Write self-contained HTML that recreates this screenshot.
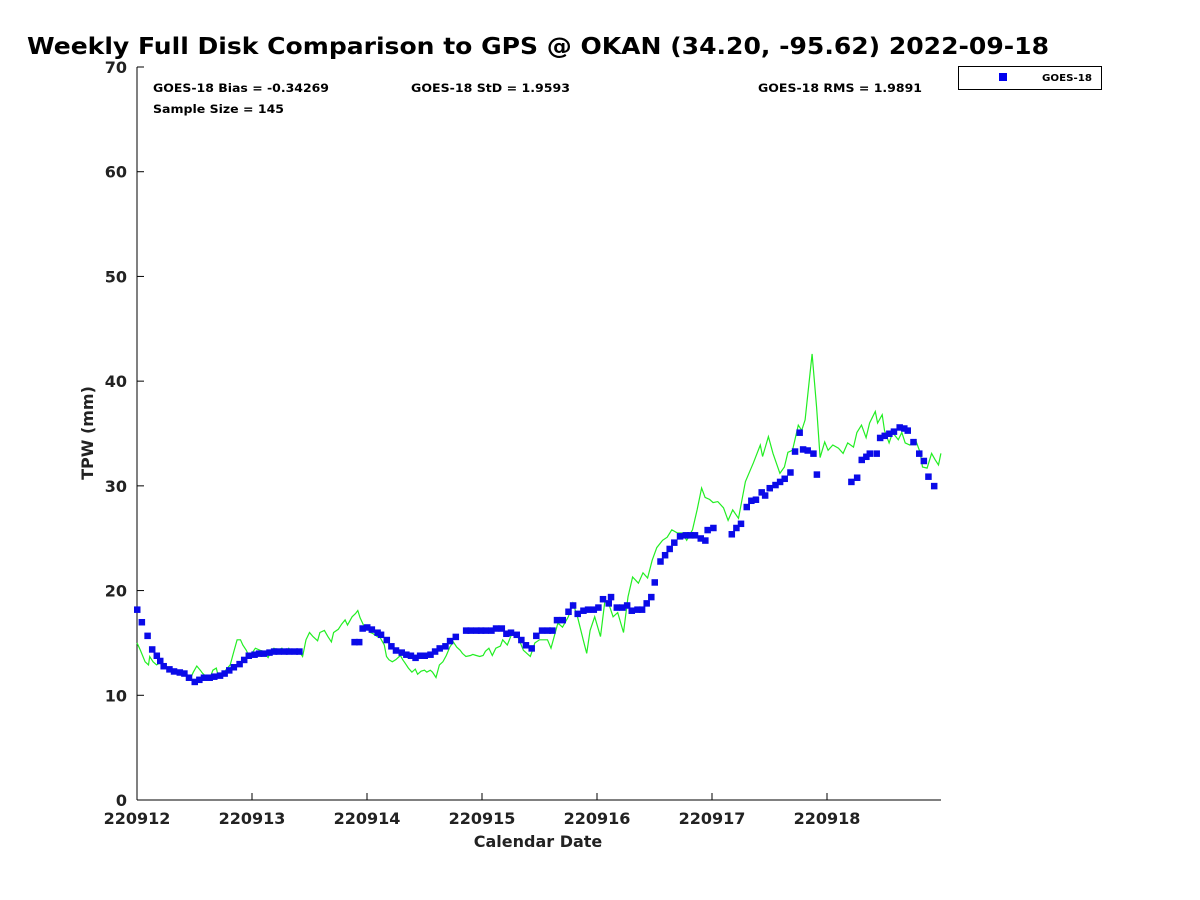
<!DOCTYPE html>
<html><head><meta charset="utf-8"><style>
body{margin:0;background:#fff;}
svg{display:block;font-family:"DejaVu Sans","Liberation Sans",sans-serif;}
</style></head><body>
<svg id="chart" width="1200" height="900">
<text x="27" y="54" font-size="23" font-weight="bold" textLength="1022" lengthAdjust="spacingAndGlyphs">Weekly Full Disk Comparison to GPS @ OKAN (34.20, -95.62) 2022-09-18</text>
<g id="axes"></g>
<g id="series"></g>
<text x="153" y="92" font-size="11.5" font-weight="bold" textLength="176" lengthAdjust="spacingAndGlyphs">GOES-18 Bias = -0.34269</text>
<text x="411" y="92" font-size="11.5" font-weight="bold" textLength="159" lengthAdjust="spacingAndGlyphs">GOES-18 StD = 1.9593</text>
<text x="758" y="92" font-size="11.5" font-weight="bold" textLength="164" lengthAdjust="spacingAndGlyphs">GOES-18 RMS = 1.9891</text>
<text x="153" y="113" font-size="11.5" font-weight="bold" textLength="131" lengthAdjust="spacingAndGlyphs">Sample Size = 145</text>
<g>
<rect x="958.5" y="66.5" width="143" height="23" fill="#fff" stroke="#000" stroke-width="1"/>
<rect x="999" y="73" width="8" height="8" fill="#0000ee"/>
<text x="1042" y="81" font-size="9.5" font-weight="bold" textLength="50" lengthAdjust="spacingAndGlyphs">GOES-18</text>
</g>
<text x="538" y="847" font-size="16" font-weight="bold" text-anchor="middle" fill="#222">Calendar Date</text>
<text transform="translate(93,433) rotate(-90)" font-size="16" font-weight="bold" text-anchor="middle" fill="#222">TPW (mm)</text>
</svg>
<script>
const xTickLabels=["220912","220913","220914","220915","220916","220917","220918"];
const yTicks=[0,10,20,30,40,50,60,70];
const goesDays=[0,.04,.09,.13,.17,.20,.23,.28,.32,.37,.41,.45,.50,.54,.58,.63,.67,.72,.76,.80,.84,.89,.93,.97,1.02,1.06,1.10,1.15,1.19,1.23,1.28,1.32,1.37,1.41,1.89,1.93,1.96,2.00,2.04,2.09,2.12,2.17,2.21,2.25,2.30,2.34,2.38,2.42,2.46,2.50,2.55,2.59,2.63,2.68,2.72,2.77,2.86,2.90,2.95,2.99,3.03,3.08,3.12,3.17,3.21,3.25,3.30,3.34,3.38,3.43,3.47,3.52,3.57,3.61,3.65,3.70,3.75,3.79,3.83,3.88,3.92,3.97,4.01,4.05,4.10,4.12,4.17,4.22,4.26,4.30,4.35,4.39,4.43,4.47,4.50,4.55,4.59,4.63,4.67,4.72,4.77,4.81,4.85,4.90,4.94,4.96,5.01,5.17,5.21,5.25,5.30,5.34,5.38,5.43,5.46,5.50,5.55,5.59,5.63,5.68,5.72,5.76,5.79,5.83,5.88,5.91,6.21,6.26,6.30,6.34,6.37,6.43,6.46,6.50,6.54,6.58,6.63,6.67,6.70,6.75,6.80,6.84,6.88,6.93];
const goesTpw=[18.2,17.0,15.7,14.4,13.8,13.3,12.8,12.5,12.3,12.2,12.1,11.7,11.3,11.5,11.7,11.7,11.8,11.9,12.1,12.4,12.7,13.0,13.4,13.8,13.9,14.0,14.0,14.1,14.2,14.2,14.2,14.2,14.2,14.2,15.1,15.1,16.4,16.5,16.3,16.0,15.8,15.3,14.7,14.3,14.1,13.9,13.8,13.6,13.8,13.8,13.9,14.2,14.5,14.7,15.2,15.6,16.2,16.2,16.2,16.2,16.2,16.2,16.4,16.4,15.9,16.0,15.8,15.3,14.8,14.5,15.7,16.2,16.2,16.2,17.2,17.2,18.0,18.6,17.8,18.1,18.2,18.2,18.4,19.2,18.8,19.4,18.4,18.4,18.6,18.1,18.2,18.2,18.8,19.4,20.8,22.8,23.4,24.0,24.6,25.2,25.3,25.3,25.3,25.0,24.8,25.8,26.0,25.4,26.0,26.4,28.0,28.6,28.7,29.4,29.1,29.8,30.1,30.4,30.7,31.3,33.3,35.1,33.5,33.4,33.1,31.1,30.4,30.8,32.5,32.8,33.1,33.1,34.6,34.8,35.0,35.2,35.6,35.5,35.3,34.2,33.1,32.4,30.9,30.0];
const gpsDays=[0,.03,.07,.10,.11,.14,.17,.20,.23,.26,.29,.31,.34,.37,.40,.43,.46,.49,.52,.55,.57,.61,.63,.66,.69,.71,.74,.77,.81,.84,.87,.90,.92,.95,.98,1.01,1.03,1.07,1.10,1.14,1.17,1.19,1.23,1.26,1.29,1.32,1.35,1.38,1.41,1.44,1.47,1.50,1.53,1.57,1.59,1.63,1.66,1.69,1.71,1.75,1.78,1.81,1.83,1.87,1.90,1.92,1.94,1.97,2.00,2.03,2.05,2.09,2.11,2.15,2.17,2.19,2.22,2.25,2.29,2.31,2.33,2.36,2.39,2.42,2.44,2.47,2.50,2.52,2.55,2.57,2.60,2.63,2.66,2.69,2.72,2.75,2.78,2.81,2.83,2.86,2.90,2.92,2.95,2.98,3.01,3.03,3.06,3.09,3.12,3.16,3.18,3.22,3.26,3.30,3.36,3.42,3.46,3.50,3.57,3.60,3.66,3.70,3.75,3.79,3.83,3.88,3.91,3.94,3.98,4.03,4.07,4.10,4.14,4.18,4.23,4.27,4.31,4.36,4.40,4.44,4.48,4.52,4.57,4.61,4.65,4.70,4.74,4.78,4.83,4.87,4.91,4.94,4.98,5.01,5.05,5.10,5.14,5.18,5.23,5.29,5.36,5.42,5.44,5.49,5.53,5.59,5.63,5.66,5.70,5.75,5.78,5.81,5.87,5.91,5.94,5.98,6.01,6.05,6.10,6.14,6.18,6.23,6.26,6.30,6.34,6.37,6.42,6.44,6.48,6.50,6.54,6.57,6.62,6.65,6.68,6.72,6.77,6.81,6.83,6.87,6.91,6.94,6.97,6.99];
const gpsTpw=[15.0,14.3,13.2,12.9,13.7,13.2,12.9,13.1,12.8,12.6,12.4,12.1,12.2,12.4,11.9,12.1,11.5,12.2,12.8,12.4,12.1,11.7,11.5,12.4,12.6,11.7,11.9,12.4,12.9,14.1,15.3,15.3,14.8,14.3,13.6,14.2,14.5,14.3,14.2,13.6,14.3,14.5,14.3,14.5,14.1,14.5,14.0,14.3,14.2,13.7,15.3,16.0,15.6,15.2,16.0,16.2,15.6,15.1,16.0,16.3,16.8,17.2,16.7,17.5,17.8,18.1,17.4,16.7,16.5,16.0,15.9,15.6,15.6,14.8,13.7,13.4,13.2,13.4,13.8,13.4,13.1,12.6,12.2,12.5,12.0,12.3,12.4,12.2,12.4,12.2,11.7,12.9,13.2,13.8,14.6,15.1,14.6,14.3,14.0,13.7,13.8,13.9,13.8,13.7,13.8,14.2,14.5,13.8,14.5,14.7,15.3,14.8,15.9,15.9,14.3,13.7,15.0,15.3,15.3,14.5,16.9,16.5,17.5,18.8,17.5,15.3,14.0,16.2,17.5,15.6,19.1,18.8,17.5,17.9,16.0,19.4,21.3,20.7,21.7,21.2,22.9,24.1,24.8,25.1,25.8,25.5,25.5,24.8,25.8,27.7,29.8,28.9,28.7,28.4,28.5,27.9,26.7,27.7,26.9,30.4,32.2,33.9,32.8,34.7,33.1,31.2,31.8,33.2,33.4,35.8,35.3,36.3,42.6,37.5,32.7,34.2,33.4,33.9,33.6,33.1,34.1,33.7,35.1,35.8,34.6,36.0,37.1,36.0,36.8,35.3,34.1,35.1,34.4,35.1,34.1,33.9,34.4,33.2,31.8,31.7,33.1,32.5,32.0,33.1];

const NS="http://www.w3.org/2000/svg";
const X0=137,X1=941,Y0=800,Y1=67,DAYW=115;
const xs=d=>X0+d*DAYW;
const ys=v=>Y0-(v/70)*(Y0-Y1);
function mk(tag,attrs,parent){const e=document.createElementNS(NS,tag);for(const k in attrs)e.setAttribute(k,attrs[k]);parent.appendChild(e);return e;}
const axes=document.getElementById('axes');
const series=document.getElementById('series');
let l=mk('line',{x1:X0,y1:Y1,x2:X0,y2:Y0,stroke:'#000','stroke-width':1},axes);


l=mk('line',{x1:X0,y1:Y0,x2:X1,y2:Y0,stroke:'#000','stroke-width':1},axes);


yTicks.forEach(v=>{
  const y=ys(v);
  const t=mk('line',{x1:X0,y1:y,x2:X0+7,y2:y,stroke:'#000'},axes);
  
  
  const tx=mk('text',{x:X0-10,y:y+6,'font-size':16,'font-weight':'bold','text-anchor':'end',fill:'#222'},axes);
  tx.textContent=v;
  
  
});
xTickLabels.forEach((s,i)=>{
  const x=xs(i);
  const t=mk('line',{x1:x,y1:Y0,x2:x,y2:Y0-7,stroke:'#000'},axes);
  
  
  const tx=mk('text',{x:x,y:Y0+24,'font-size':16,'font-weight':'bold','text-anchor':'middle',fill:'#222'},axes);
  tx.textContent=s;
  
  
});
const pts=gpsDays.map((d,i)=>xs(d).toFixed(1)+','+ys(gpsTpw[i]).toFixed(1)).join(' ');
const pl=mk('polyline',{points:pts,fill:'none',stroke:'#22ee22','stroke-width':1.2},series);


goesDays.forEach((d,i)=>{
  const r=mk('rect',{x:xs(d)-3,y:ys(goesTpw[i])-3,width:6.5,height:6.5,fill:'#0a0ae8'},series);
  
  
});
</script>
</body></html>
